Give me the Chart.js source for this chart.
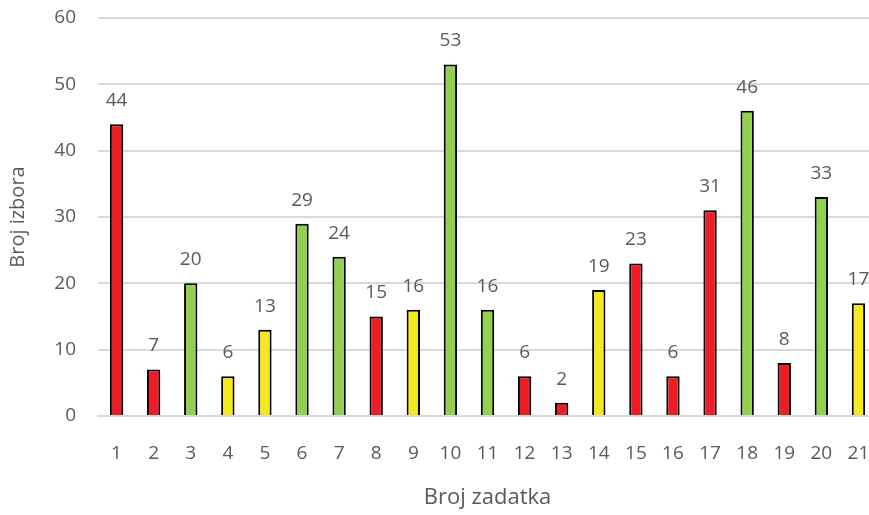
<!DOCTYPE html>
<html>
<head>
<meta charset="utf-8">
<script src="https://cdn.jsdelivr.net/npm/chart.js@4/dist/chart.umd.min.js"></script>
<style>
  html, body { margin: 0; padding: 0; background: #fff; overflow: hidden; }
  #wrap { width: 877px; height: 515px; }
</style>
</head>
<body>
<div id="wrap"><canvas id="c" width="877" height="515"></canvas></div>
<script>
// Task numbers along the horizontal axis
const categories = ['1','2','3','4','5','6','7','8','9','10','11','12','13','14','15','16','17','18','19','20','21'];
// Number of times each task was chosen
const counts = [44, 7, 20, 6, 13, 29, 24, 15, 16, 53, 16, 6, 2, 19, 23, 6, 31, 46, 8, 33, 17];
// Difficulty group per task: r = red, g = green, y = yellow
const groups = ['r','r','g','y','y','g','g','r','y','g','g','r','r','y','r','r','r','g','r','g','y'];
const yTicks = [0, 10, 20, 30, 40, 50, 60];

const palette = { r: '#ee1c25', g: '#92d050', y: '#f5e81c' };
const textGrey = '#595959';
const font = "'Open Sans', 'Noto Sans', sans-serif";

// Writes each bar's value above it
const valueLabels = {
  id: 'valueLabels',
  afterDatasetsDraw(chart) {
    const ctx = chart.ctx;
    const meta = chart.getDatasetMeta(0);
    ctx.save();
    ctx.fillStyle = textGrey;
    ctx.font = "19px " + font;
    ctx.textAlign = 'center';
    ctx.textBaseline = 'bottom';
    meta.data.forEach((bar, i) => {
      ctx.fillText(String(counts[i]), bar.x, bar.y - 14);
    });
    ctx.restore();
  }
};

new Chart(document.getElementById('c'), {
  type: 'bar',
  data: {
    labels: categories,
    datasets: [{
      data: counts,
      backgroundColor: groups.map(g => palette[g]),
      borderColor: '#000',
      borderWidth: 2,
      borderSkipped: 'bottom',
      barPercentage: 0.36,
      categoryPercentage: 1.0
    }]
  },
  options: {
    responsive: false,
    animation: false,
    devicePixelRatio: 1,
    layout: { padding: { top: 18, left: 0, right: 0, bottom: 0 } },
    plugins: { legend: { display: false }, tooltip: { enabled: false } },
    scales: {
      x: {
        grid: { display: false, drawTicks: false },
        border: { display: true, color: '#d9d9d9', width: 2 },
        ticks: { color: textGrey, font: { family: font, size: 19 }, padding: 26, maxRotation: 0 },
        title: { display: true, text: 'Broj zadatka', color: textGrey, font: { family: font, size: 22 }, padding: { top: 16 } },
        afterFit(scale) { scale.height = 99; scale.paddingLeft = 0; scale.paddingRight = 0; }
      },
      y: {
        min: 0, max: 60,
        afterBuildTicks(scale) { scale.ticks = yTicks.map(v => ({ value: v })); },
        grid: { color: '#d9d9d9', lineWidth: 2, drawTicks: false },
        border: { display: false },
        ticks: { color: textGrey, font: { family: font, size: 19 }, padding: 22 },
        title: { display: true, text: 'Broj izbora', color: textGrey, font: { family: font, size: 20 }, padding: { top: 6, bottom: 8 } },
        afterFit(scale) { scale.width = 98; scale.paddingTop = 0; scale.paddingBottom = 0; }
      }
    }
  },
  plugins: [valueLabels]
});
</script>
</body>
</html>
